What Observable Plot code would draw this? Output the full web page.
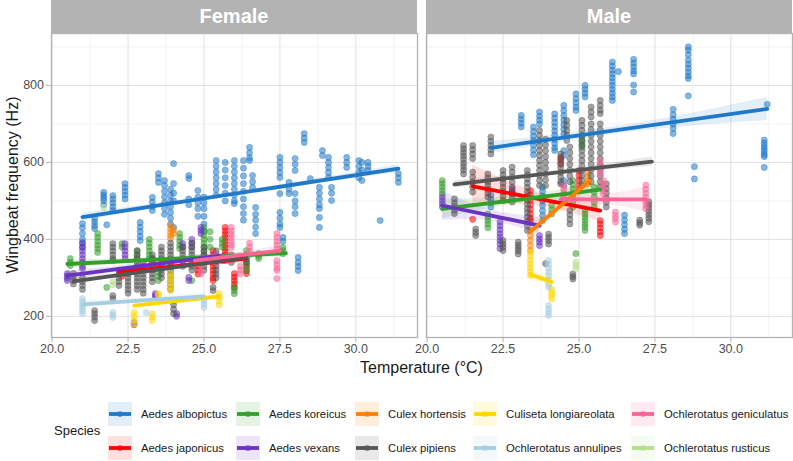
<!DOCTYPE html>
<html>
<head>
<meta charset="utf-8">
<script src="https://cdn.jsdelivr.net/npm/d3@7"></script>
<script src="https://cdn.jsdelivr.net/npm/@observablehq/plot@0.6"></script>
<style>
  body { margin: 0; background: #fff; font-family: "Liberation Sans", Arial, sans-serif; }
  #wrap { position: relative; width: 793px; height: 461px; overflow: hidden; background: #fff; }
  #wrap svg.plot { position: absolute; left: 0; top: 0; }
  .strip { position: absolute; top: 0; height: 33px; background: #b3b3b3; color: #fff;
           font-weight: bold; font-size: 20px; display: flex; align-items: center; justify-content: center; }
  .ytitle { position: absolute; width: 300px; height: 20px; line-height: 20px; text-align: center;
            font-size: 16px; color: #1a1a1a; transform: rotate(-90deg); }
  .xtitle { position: absolute; height: 20px; line-height: 20px; text-align: center; font-size: 16px; color: #1a1a1a; }
  .legtitle { position: absolute; font-size: 13px; color: #1a1a1a; }
  .legkey { position: absolute; width: 24px; height: 24px; }
  .leglab { position: absolute; font-size: 11.3px; color: #1a1a1a; line-height: 24px; white-space: nowrap; }
</style>
</head>
<body>
<div id="wrap"></div>
<script>
// Species and their colours (pals::cols25 order)
const species = [
  "Aedes albopictus", "Aedes japonicus", "Aedes koreicus", "Aedes vexans", "Culex hortensis",
  "Culex pipiens", "Culiseta longiareolata", "Ochlerotatus annulipes", "Ochlerotatus geniculatus", "Ochlerotatus rusticus"
];
const speciesColors = ["#1F78C8", "#ff0000", "#33a02c", "#6A33C2", "#ff7f00", "#565656", "#FFD700", "#a6cee3", "#FB6496", "#b2df8a"];
const sexes = ["Female", "Male"];

// Axis ticks
const xTicks = [20, 22.5, 25, 27.5, 30];
const xMinor = [21.25, 23.75, 26.25, 28.75, 31.25];
const yTicks = [200, 400, 600, 800];
const yMinor = [300, 500, 700, 900];

// Measurements: each row is [temperature, wingbeat frequencies recorded at that temperature...]
const femaleAlbopictus = [
  [21.0, 441, 430, 415, 400, 392, 379], [21.4, 454, 445, 436, 428], [21.7, 522, 515, 508, 501, 490],
  [21.8, 438], [22.0, 514, 505, 495, 485, 475], [22.4, 545, 535, 525, 515, 505],
  [22.9, 444, 432, 420, 408, 397], [23.3, 509, 497, 485, 475], [23.5, 571, 560, 548],
  [23.7, 553, 540, 525, 510, 495, 480, 465], [23.9, 530, 515, 500, 485, 470, 455, 440],
  [24.0, 597, 545, 520, 500, 431], [24.5, 566, 558, 505, 490], [24.8, 527, 510, 495, 480, 460],
  [25.0, 510, 495, 480, 460, 440, 423], [25.4, 605, 590, 575, 560, 545, 530, 515],
  [25.7, 600, 580, 560, 540, 520, 500], [26.0, 605, 590, 575, 560, 545, 530, 515, 500, 493],
  [26.3, 605, 585, 565, 545, 525, 505, 485, 467, 450], [26.5, 639, 625, 612, 605],
  [26.6, 566, 550, 535], [26.7, 483, 465, 450, 432, 415],
  [27.5, 613, 600, 587, 574, 561, 519, 470, 455, 440, 431], [27.6, 405, 395],
  [27.8, 548, 530, 519], [28.0, 610, 595, 579, 519, 500, 485, 467], [28.1, 353, 340, 330, 319],
  [28.3, 675, 663, 652], [28.5, 558], [28.8, 535, 520, 505, 490, 480, 457, 431], [28.9, 631, 618],
  [29.1, 613, 600, 587, 574, 561], [29.2, 535, 520, 501], [29.7, 613, 600, 587],
  [30.1, 605, 590, 575, 560], [30.2, 600, 580, 553], [30.4, 600, 590, 579], [30.8, 449],
  [31.4, 571, 560, 548]
];
const femaleJaponicus = [
  [22.3, 320, 312, 304], [23.3, 350, 342], [24.8, 330, 320, 310],
  [25.3, 371, 360, 350, 340, 330, 320, 310, 300, 293],
  [25.7, 431, 422, 413, 404, 395, 386, 377, 368, 359, 350, 345],
  [26.0, 311, 302, 293, 284, 275], [26.4, 337, 328, 319, 311]
];
const femaleKoreicus = [
  [20.6, 350, 340, 332], [21.5, 415, 405, 395, 385, 376, 366], [21.8, 275], [22.3, 389, 380],
  [22.8, 371, 360, 350], [23.2, 400, 390, 380, 370, 360, 350], [23.5, 327, 315, 304, 293],
  [24.2, 415, 405, 395, 385, 376], [24.6, 293], [25.0, 431, 420, 410, 400, 390, 379, 370, 360, 353],
  [25.2, 420, 400, 380], [25.6, 400, 390, 380], [26.0, 275, 267, 259],
  [26.4, 371, 360, 345, 330, 319], [26.8, 363, 356, 350], [27.6, 379, 371, 363]
];
const femaleVexans = [
  [20.5, 311, 305, 299, 293], [21.0, 389, 380, 370, 360, 350, 340, 330, 324],
  [22.4, 389, 380, 370, 360, 350], [22.7, 184, 178], [23.4, 259, 254, 249], [24.1, 207, 200],
  [24.3, 389, 380], [24.5, 301, 293], [24.6, 400, 390, 380], [24.9, 431, 423, 415], [25.6, 355, 345]
];
const femaleHortensis = [[23.9, 436, 427, 418, 410, 402], [24.0, 425, 415]];
const femalePipiens = [
  [20.7, 311, 302, 293, 284], [21.0, 300, 290, 280, 270], [21.4, 215, 207, 198, 189],
  [22.0, 389, 380, 370, 360, 350, 345], [22.0, 254, 246], [22.2, 320, 310, 300, 290, 280],
  [22.5, 310, 300, 290, 280, 270, 260], [22.8, 370, 360, 350, 340, 330, 320, 310, 300, 290, 280, 270],
  [23.0, 340, 330, 320, 310, 300, 290, 280, 270, 260], [23.3, 360, 350, 340, 330, 320, 310, 300, 290],
  [23.6, 380, 370, 360, 350, 340, 330, 320, 310, 300],
  [23.9, 390, 380, 370, 360, 350, 340, 330, 320, 310, 300, 290, 280, 270],
  [24.0, 241, 230, 218, 207], [24.3, 380, 370, 360, 350, 340, 330],
  [24.6, 390, 380, 370, 360, 350, 340, 330, 320], [25.0, 380, 370, 360, 350, 340, 330, 320],
  [25.3, 275, 267], [25.4, 370, 360, 350, 340, 330, 320, 310, 300], [25.9, 360, 350, 340], [26.4, 350, 340]
];
const femaleLongiareolata = [
  [22.7, 210, 200, 190, 180], [23.3, 207, 198, 189], [23.5, 259, 254],
  [23.9, 311, 300, 289, 278, 267], [25.5, 259, 250, 240, 230]
];
const femaleAnnulipes = [[21.0, 246, 238, 230, 222, 214, 207], [22.0, 210, 203, 197], [23.1, 210], [25.0, 241, 232, 223]];
const femaleGeniculatus = [
  [24.9, 320, 310], [25.4, 360, 350, 340], [25.9, 431, 422, 413, 404, 395, 386, 379],
  [26.2, 330, 320, 311], [26.5, 390, 380, 370, 360],
  [27.4, 415, 405, 395, 385, 375, 345, 335, 325, 319, 298]
];
const femaleRusticus = [[21.7, 483], [22.0, 290, 282]];

const maleAlbopictus = [
  [22.1, 515, 505, 495, 484], [23.1, 722, 712, 702, 692], [23.5, 692, 680, 668, 657, 645, 632, 620],
  [23.7, 731, 720, 710, 700], [23.8, 536, 525, 512, 500, 488, 475, 462, 449],
  [24.2, 726, 715, 704, 693, 682, 671, 660, 649, 638, 631], [24.5, 748, 735, 722, 710, 698, 686, 674, 631, 618],
  [24.5, 553, 540], [24.9, 778, 766, 755, 744, 735], [25.2, 800, 790, 780, 770],
  [26.1, 861, 850, 840, 830, 820, 810, 800, 790, 780, 770, 761], [26.3, 836],
  [26.5, 463, 450, 438, 426, 415], [26.8, 868, 858, 848, 838, 830, 801, 783],
  [28.1, 738, 724, 712, 700, 688, 675], [28.6, 900, 892, 880, 866, 855, 845, 835, 825, 818, 773],
  [28.8, 589, 557], [31.1, 658, 650, 642, 635, 628, 620, 615, 587], [31.2, 751]
];
const maleJaponicus = [
  [21.5, 452], [23.4, 527, 515, 503, 490, 478, 466, 455, 449], [24.4, 614, 605, 595],
  [25.0, 579, 566, 553, 540, 527], [25.7, 449, 440, 430, 420, 410]
];
const maleKoreicus = [
  [20.5, 553, 545, 536, 527, 518], [22.0, 466, 458, 449, 440, 430], [24.1, 488, 477, 466],
  [24.8, 553, 542, 531, 520, 509, 498, 484], [24.9, 363], [25.1, 666, 656, 648, 640],
  [25.2, 475, 466, 457, 449, 440, 432, 423], [25.5, 536, 523, 510, 497, 484]
];
const maleVexans = [
  [20.5, 510, 501, 493, 484], [22.4, 445, 435, 425, 415, 406, 397, 388, 376],
  [22.8, 531, 524, 518], [23.7, 410, 401, 393, 384]
];
const maleHortensis = [[23.4, 423, 410, 397, 384, 371], [25.3, 575, 564, 553, 544]];
const malePipiens = [
  [20.9, 505, 495, 486, 476, 467], [21.2, 644, 635, 626, 617, 608, 598, 589, 580, 570],
  [21.5, 644, 633, 622, 610, 575, 562, 549, 536, 523], [21.6, 427, 418, 410],
  [22.0, 570, 560, 550, 540, 530, 520, 510], [22.1, 666, 655, 644, 633, 622],
  [22.5, 579, 568, 557, 546, 535, 524, 512, 501], [22.5, 397, 388, 380, 371],
  [22.8, 588, 575, 562, 549, 536, 523, 510, 497], [23.0, 393, 385, 377, 370, 362],
  [23.3, 579, 568, 557, 546, 535, 524, 513, 502, 491, 480, 469, 458, 447, 436, 423],
  [23.7, 683, 670, 657, 644, 631, 618, 605, 592, 579, 566, 553, 540],
  [23.9, 660, 645, 630, 615, 600, 585, 570, 555, 540], [23.9, 337], [24.0, 414, 405, 397, 388],
  [24.4, 622, 610, 598, 586, 574, 562, 550, 544], [24.6, 709, 696, 683, 670, 657],
  [24.7, 640, 625, 610, 595, 580, 565, 550], [24.7, 475, 464, 452, 440], [24.8, 310, 303, 297],
  [25.1, 709, 696, 683, 670, 657, 644, 631, 618, 605, 592, 579, 566, 553, 540],
  [25.4, 744, 731, 718, 700, 685, 670, 655, 640, 625, 610, 595, 580, 565, 550],
  [25.7, 761, 748, 736, 727, 700, 685, 670, 655, 640, 625, 610, 595, 580, 565, 550, 536],
  [25.9, 544, 532, 520, 508, 496, 484], [27.0, 450, 443, 437], [27.3, 498, 490, 482, 473, 464, 455, 446]
];
const maleLongiareolata = [[23.4, 367, 357, 347, 337, 327, 317, 307], [24.1, 271, 262, 254, 245]];
const maleAnnulipes = [[24.0, 345, 335, 325, 315, 305, 295, 285, 276, 228, 219, 210, 202]];
const maleGeniculatus = [
  [24.5, 540, 530, 520, 510, 501], [25.7, 605, 592, 580, 570], [25.8, 553, 544, 535, 527, 518],
  [26.2, 471, 462, 454, 445], [27.2, 541, 530, 520, 510, 500, 490, 480]
];
const maleRusticus = [[24.9, 340, 332, 324]];

const measurementGroups = [
  ["Female", "Aedes albopictus", femaleAlbopictus], ["Female", "Aedes japonicus", femaleJaponicus],
  ["Female", "Aedes koreicus", femaleKoreicus], ["Female", "Aedes vexans", femaleVexans],
  ["Female", "Culex hortensis", femaleHortensis], ["Female", "Culex pipiens", femalePipiens],
  ["Female", "Culiseta longiareolata", femaleLongiareolata], ["Female", "Ochlerotatus annulipes", femaleAnnulipes],
  ["Female", "Ochlerotatus geniculatus", femaleGeniculatus], ["Female", "Ochlerotatus rusticus", femaleRusticus],
  ["Male", "Aedes albopictus", maleAlbopictus], ["Male", "Aedes japonicus", maleJaponicus],
  ["Male", "Aedes koreicus", maleKoreicus], ["Male", "Aedes vexans", maleVexans],
  ["Male", "Culex hortensis", maleHortensis], ["Male", "Culex pipiens", malePipiens],
  ["Male", "Culiseta longiareolata", maleLongiareolata], ["Male", "Ochlerotatus annulipes", maleAnnulipes],
  ["Male", "Ochlerotatus geniculatus", maleGeniculatus], ["Male", "Ochlerotatus rusticus", maleRusticus]
];

// Linear fits per sex and species: end points and 95% CI half-widths (Hz) at start, middle, end
const fitSex     = ["Female","Female","Female","Female","Female","Female","Female","Female",
                    "Male","Male","Male","Male","Male","Male","Male","Male"];
const fitSpecies = ["Aedes albopictus","Aedes japonicus","Aedes koreicus","Aedes vexans","Culex pipiens",
                    "Culiseta longiareolata","Ochlerotatus annulipes","Ochlerotatus geniculatus",
                    "Aedes albopictus","Aedes japonicus","Aedes koreicus","Aedes vexans","Culex hortensis",
                    "Culex pipiens","Culiseta longiareolata","Ochlerotatus geniculatus"];
const fitT0  = [21.0, 22.2, 20.5, 20.5, 20.7, 22.7, 21.0, 24.7,  22.1, 21.5, 20.5, 20.5, 23.4, 20.9, 23.4, 24.4];
const fitT1  = [31.4, 26.4, 27.7, 25.5, 26.4, 25.5, 25.0, 27.5,  31.2, 25.7, 25.7, 23.7, 25.35, 27.4, 24.1, 27.2];
const fitF0  = [458, 315, 336, 306, 291, 228, 231, 345,  638, 538, 479, 488, 420, 543, 309, 504];
const fitF1  = [584, 350, 364, 357, 353, 252, 252, 371,  739, 475, 529, 436, 552, 602, 289, 504];
const ciStart = [10, 12, 10, 12, 8, 10, 10, 14,  15, 55, 25, 38, 22, 10, 18, 35];
const ciMid   = [5, 7, 6, 7, 4, 6, 6, 8,  10, 18, 10, 15, 12, 5, 12, 15];
const ciEnd   = [10, 12, 10, 12, 8, 10, 10, 14,  30, 30, 20, 22, 25, 12, 18, 33];

// Flatten measurements into tidy rows
const points = [];
for (const [sex, sp, rows] of measurementGroups) {
  for (const [t, ...freqs] of rows) for (const f of freqs) points.push({sex, species: sp, t, f});
}

// Fitted lines and their confidence ribbons
const fitLines = [];
const fitBands = [];
fitSex.forEach((sex, i) => {
  const key = sex + "|" + fitSpecies[i];
  const tm = (fitT0[i] + fitT1[i]) / 2, fm = (fitF0[i] + fitF1[i]) / 2;
  fitLines.push({key, sex, species: fitSpecies[i], t: fitT0[i], f: fitF0[i]},
                {key, sex, species: fitSpecies[i], t: fitT1[i], f: fitF1[i]});
  [[fitT0[i], fitF0[i], ciStart[i]], [tm, fm, ciMid[i]], [fitT1[i], fitF1[i], ciEnd[i]]].forEach(([t, f, h]) =>
    fitBands.push({key, sex, species: fitSpecies[i], t, lo: f - h, hi: f + h}));
});

const chart = Plot.plot({
  width: 793,
  height: 386,
  marginTop: 33,
  marginRight: 1,
  marginBottom: 49,
  marginLeft: 50,
  style: {fontFamily: "'Liberation Sans', Arial, sans-serif", fontSize: "12px", background: "transparent", overflow: "visible"},
  fx: {domain: sexes, paddingInner: 0.024, paddingOuter: 0, axis: null, label: null},
  x: {domain: [19.98, 32.03], label: null},
  y: {domain: [145, 935], label: null},
  color: {domain: species, range: speciesColors},
  marks: [
    Plot.gridX(xMinor, {stroke: "#eeeeee", strokeOpacity: 1, strokeWidth: 0.7}),
    Plot.gridY(yMinor, {stroke: "#eeeeee", strokeOpacity: 1, strokeWidth: 0.7}),
    Plot.gridX(xTicks, {stroke: "#e0e0e0", strokeOpacity: 1, strokeWidth: 1}),
    Plot.gridY(yTicks, {stroke: "#e0e0e0", strokeOpacity: 1, strokeWidth: 1}),
    Plot.dot(points, {x: "t", y: "f", fx: "sex", fill: "species", r: 3.1, fillOpacity: 0.55,
                      stroke: "species", strokeOpacity: 0.5, strokeWidth: 0.7}),
    Plot.areaY(fitBands, {x: "t", y1: "lo", y2: "hi", fx: "sex", z: "key", fill: "species", fillOpacity: 0.13, curve: "natural"}),
    Plot.line(fitLines, {x: "t", y: "f", fx: "sex", z: "key", stroke: "species", strokeWidth: 3.8}),
    Plot.frame({stroke: "#b3b3b3", strokeWidth: 1.3}),
    Plot.axisX(xTicks, {tickFormat: d3.format(".1f"), tickSize: 5, tickPadding: 2, stroke: "#b3b3b3",
                        fill: "#4d4d4d", fontSize: 12.5, label: null}),
    Plot.axisY(yTicks, {tickSize: 5, tickPadding: 2.5, stroke: "#b3b3b3", fill: "#4d4d4d", fontSize: 12.5, label: null})
  ]
});
chart.classList.add("plot");

const wrap = document.getElementById("wrap");
wrap.appendChild(chart);

// Facet strips placed from the facet scale
const fx = chart.scale("fx");
for (const s of sexes) {
  const strip = document.createElement("div");
  strip.className = "strip";
  strip.style.left = fx.apply(s) + "px";
  strip.style.width = fx.bandwidth + "px";
  strip.textContent = s;
  wrap.appendChild(strip);
}

// Axis titles
const yScale = chart.scale("y");
const yMid = (yScale.range[0] + yScale.range[1]) / 2;
const ytitle = document.createElement("div");
ytitle.className = "ytitle";
ytitle.textContent = "Wingbeat frequency (Hz)";
ytitle.style.left = (13 - 150) + "px";
ytitle.style.top = (yMid - 10) + "px";
wrap.appendChild(ytitle);

const x0 = fx.apply(sexes[0]), x1 = fx.apply(sexes[1]) + fx.bandwidth;
const xtitle = document.createElement("div");
xtitle.className = "xtitle";
xtitle.textContent = "Temperature (°C)";
xtitle.style.left = x0 + "px";
xtitle.style.width = (x1 - x0) + "px";
xtitle.style.top = "358px";
wrap.appendChild(xtitle);

// Legend: two rows, filled column by column
const legTitle = document.createElement("div");
legTitle.className = "legtitle";
legTitle.textContent = "Species";
legTitle.style.left = "54px";
legTitle.style.top = "423px";
wrap.appendChild(legTitle);

const legendColX = [108, 236, 355, 473, 631];
const legendRowY = [402, 436];
species.forEach((sp, i) => {
  const col = Math.floor(i / 2), row = i % 2;
  const c = speciesColors[i];
  const key = document.createElementNS("http://www.w3.org/2000/svg", "svg");
  key.setAttribute("class", "legkey");
  key.setAttribute("width", 24);
  key.setAttribute("height", 24);
  key.style.left = legendColX[col] + "px";
  key.style.top = legendRowY[row] + "px";
  key.innerHTML = `<rect width="24" height="24" fill="${c}" fill-opacity="0.13"/>` +
    `<circle cx="12" cy="12" r="3.1" fill="${c}" fill-opacity="0.55"/>` +
    `<line x1="1" x2="23" y1="12" y2="12" stroke="${c}" stroke-width="3.8"/>`;
  wrap.appendChild(key);
  const lab = document.createElement("div");
  lab.className = "leglab";
  lab.textContent = sp;
  lab.style.left = (legendColX[col] + 33) + "px";
  lab.style.top = legendRowY[row] + "px";
  wrap.appendChild(lab);
});
</script>
</body>
</html>
